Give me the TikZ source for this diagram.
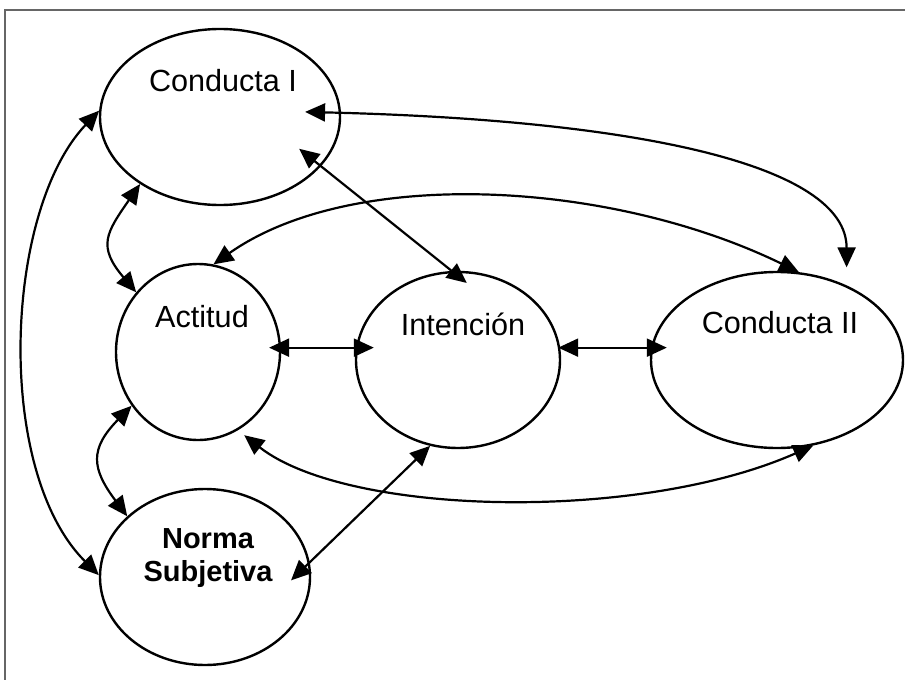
\documentclass[tikz,border=0pt]{standalone}
\usepackage{fontspec}
\setmainfont{Liberation Sans}
\usetikzlibrary{shapes.geometric, arrows.meta}

\begin{document}
\begin{tikzpicture}[x=0.5pt, y=-0.5pt,
  elipse/.style={draw, ellipse, line width=1.2pt, inner sep=0pt},
  flecha/.style={{Triangle[length=10pt, width=9pt]}-{Triangle[length=10pt, width=9pt]}, line width=1.1pt},
  rotulo/.style={font=\fontsize{15.3}{18}\selectfont, anchor=base, inner sep=0pt}]
\useasboundingbox (0,0) rectangle (905,680);
\draw [gray!80!black, line width=1pt] (5,680) -- (5,10) -- (905,10);
\node [elipse, minimum width=120pt, minimum height=88pt] (ci) at (220,117) {};
\node [elipse, minimum width=82pt, minimum height=88pt] (act) at (198,352) {};
\node [elipse, minimum width=102pt, minimum height=88pt] (int) at (458,360) {};
\node [elipse, minimum width=126pt, minimum height=88pt] (c2) at (777,360) {};
\node [elipse, minimum width=105pt, minimum height=88pt] (ns) at (205,577) {};
\node [rotulo] (ciT) at (223,91) {Conducta I};
\node [rotulo] (actT) at (202,327) {Actitud};
\node [rotulo] (intT) at (463,335) {Intención};
\node [rotulo] (c2T) at (780,333) {Conducta II};
\node [rotulo, anchor=center, align=center, font=\fontsize{14.5}{16.5}\selectfont\bfseries] (nsT) at (208,558) {Norma\\Subjetiva};
\draw [flecha] (ci.177) .. controls +(-95,100) and +(-105,-105) .. (ns.179);
\draw [flecha] (ci.220) .. controls +(-34,49) and +(-39,-46) .. (act.136);
\draw [flecha] (act.219) .. controls +(-42,43) and +(-36,-48) .. (ns.142);
\draw [flecha, shorten <=-14pt, shorten >=-9.6pt] (ci.334) -- (int.94);
\draw [flecha, shorten <=-18pt, shorten >=9pt] (ci.2) .. controls +(299,7) and +(0,-120) .. (c2.47);
\draw [flecha] (act.80) .. controls +(139,-98) and +(-189,-92) .. (c2.76);
\draw [flecha, shorten <=-6pt, shorten >=-9.5pt] (act.3) -- (act.3 -| int.west);
\draw [flecha, shorten <=-1.5pt, shorten >=-8.5pt] (int.east |- act.3) -- (c2.west |- act.3);
\draw [flecha, shorten <=4pt] (act.297) .. controls +(110,86) and +(-174,77) .. (c2.293);
\draw [flecha, shorten >=-13pt] (int.252) -- (ns.8);
\end{tikzpicture}
\end{document}
